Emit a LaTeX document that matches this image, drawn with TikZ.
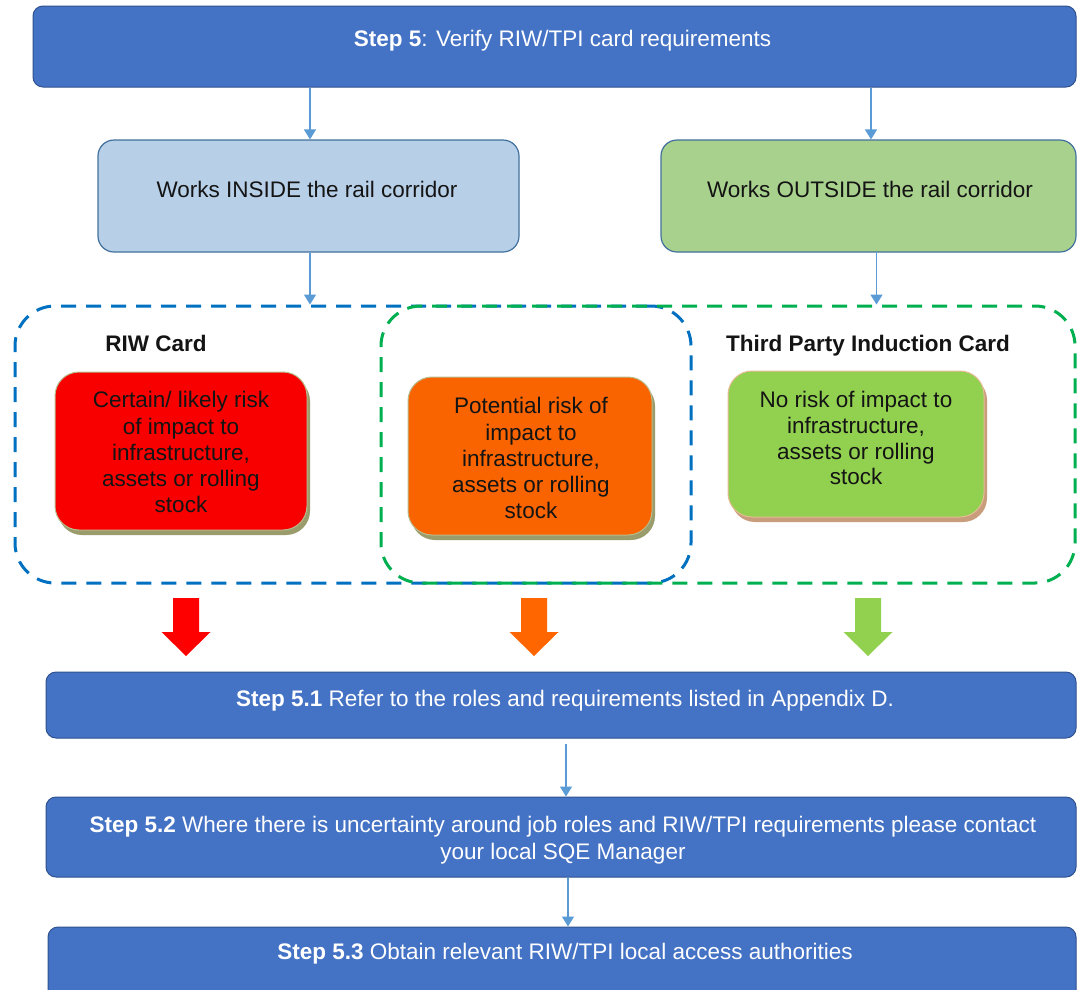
\documentclass[tikz,border=0pt]{standalone}
\usepackage{fontspec}
\setmainfont{Liberation Sans}
\usetikzlibrary{arrows.meta,shadows}
\definecolor{stepblue}{HTML}{4472C4}
\definecolor{stepborder}{HTML}{2F528F}
\definecolor{connblue}{HTML}{5B9BD5}
\definecolor{insidefill}{HTML}{B8CFE8}
\definecolor{outsidefill}{HTML}{A9D18E}
\definecolor{workborder}{HTML}{41719C}
\definecolor{dashblue}{HTML}{0070C0}
\definecolor{dashgreen}{HTML}{00B050}
\definecolor{cardred}{HTML}{F80000}
\definecolor{cardorange}{HTML}{F96400}
\definecolor{cardgreen}{HTML}{92D050}
\definecolor{olivesh}{HTML}{9A9C6C}
\definecolor{oliverim}{HTML}{B9BC8C}
\definecolor{tansh}{HTML}{C99C7C}
\definecolor{tanrim}{HTML}{E6BC98}
\definecolor{arrowred}{HTML}{FF0000}
\definecolor{arroworange}{HTML}{FF6600}
\definecolor{arrowgreen}{HTML}{92D050}
\definecolor{inktext}{HTML}{141414}
\begin{document}
\begin{tikzpicture}[x=1pt,y=-1pt,
  stepbox/.style={draw=stepborder, fill=stepblue, rounded corners=10pt, line width=1pt, inner sep=0pt},
  steptext/.style={text=white, font=\fontsize{22.5}{27}\selectfont, anchor=base, inner sep=0pt},
  workbox/.style={draw=workborder, rounded corners=16pt, line width=1.2pt, inner sep=0pt},
  worktext/.style={text=inktext, font=\fontsize{22.5}{27}\selectfont, anchor=base, inner sep=0pt},
  dashbox/.style={dash pattern=on 15pt off 10pt, line width=3pt, rounded corners=40pt, inner sep=0pt},
  boldlabel/.style={text=inktext, font=\bfseries\fontsize{22.5}{27}\selectfont, anchor=base, inner sep=0pt},
  card/.style={rounded corners=24pt, line width=1pt, inner sep=0pt},
  redshadow/.style={drop shadow={shadow xshift=3pt, shadow yshift=-5pt, fill=olivesh, opacity=1}},
  tanshadow/.style={drop shadow={shadow xshift=3pt, shadow yshift=-5pt, fill=tansh, opacity=1}},
  cardtext/.style={text=inktext, align=center, inner sep=0pt},
  conn/.style={draw=connblue, line width=1.5pt, -{Triangle[width=12pt,length=10pt]}},
  blockarr/.pic={\fill (-13,0) -- (13,0) -- (13,34) -- (24.5,34) -- (0,58) -- (-24.5,34) -- (-13,34) -- cycle;}
]
\clip (0,0) rectangle (1077,989);
\fill[white] (0,0) rectangle (1077,989);

% Step 5
\node[stepbox, minimum width=1043, minimum height=81] (s5) at (554.5,46.5) {};
\node[steptext] (s5t) at (562.5,46) {\textbf{Step 5}: Verify RIW/TPI card requirements};

% inside / outside
\node[workbox, fill=insidefill, minimum width=421, minimum height=112] (inside) at (308.5,196) {};
\node[worktext] (insidet) at (307,197) {Works INSIDE the rail corridor};
\node[workbox, fill=outsidefill, minimum width=415, minimum height=112] (outside) at (868.5,196) {};
\node[worktext] (outsidet) at (870,197) {Works OUTSIDE the rail corridor};

% dashed groups
\node[dashbox, draw=dashblue, minimum width=676, minimum height=277] (riw) at (353,444.5) {};
\node[dashbox, draw=dashgreen, dash phase=12pt, minimum width=694, minimum height=277] (tpi) at (728,444.5) {};

\node[boldlabel] (riwl) at (156,351) {RIW Card};
\node[boldlabel] (tpil) at (868,351) {Third Party Induction Card};

% cards
\node[card, fill=cardred, draw=oliverim, redshadow, minimum width=252, minimum height=158] (red) at (181,451) {};
\node[cardtext, font=\fontsize{22.5}{26.2}\selectfont] (redt) at (181,452.3) {Certain/ likely risk\\of impact to\\infrastructure,\\assets or rolling\\stock};

\node[card, fill=cardorange, draw=oliverim, redshadow, minimum width=244, minimum height=158] (orange) at (530,456) {};
\node[cardtext, font=\fontsize{22.5}{26.2}\selectfont] (oranget) at (531,458.3) {Potential risk of\\impact to\\infrastructure,\\assets or rolling\\stock};

\node[card, fill=cardgreen, draw=tanrim, tanshadow, minimum width=256, minimum height=146] (green) at (856,444) {};
\node[cardtext, font=\fontsize{22.5}{25.7}\selectfont] (greent) at (856,438.3) {No risk of impact to\\infrastructure,\\assets or rolling\\stock};

% connectors
\draw[conn] ([xshift=1.5pt]inside.north |- s5.south) -- ([xshift=1.5pt]inside.north);
\draw[conn] ([xshift=2.5pt]outside.north |- s5.south) -- ([xshift=2.5pt]outside.north);
\draw[conn] ([xshift=1.5pt]inside.south) -- ([xshift=1.5pt]inside.south |- riw.north);
\draw[conn] ([xshift=8pt]outside.south) -- ([xshift=8pt]outside.south |- tpi.north);

% block arrows
\pic[arrowred] at (186,598) {blockarr};
\pic[arroworange] at (534,598) {blockarr};
\pic[arrowgreen] at (868,598) {blockarr};

% bottom steps
\node[stepbox, minimum width=1030, minimum height=66] (s51) at (561,705) {};
\node[steptext] (s51t) at (565,706) {\textbf{Step 5.1} Refer to the roles and requirements listed in Appendix D.};

\node[stepbox, minimum width=1030, minimum height=80] (s52) at (561,837) {};
\node[steptext, anchor=center, align=center] (s52t) at (563,839.7) {\textbf{Step 5.2} Where there is uncertainty around job roles and RIW/TPI requirements please contact\\your local SQE Manager};

\node[stepbox, minimum width=1028, minimum height=83] (s53) at (562,968.5) {};
\node[steptext] (s53t) at (565,959) {\textbf{Step 5.3} Obtain relevant RIW/TPI local access authorities};

\draw[conn, shorten <=5pt] ([xshift=5pt]s51.south) -- ([xshift=5pt]s51.south |- s52.north);
\draw[conn] ([xshift=7pt]s52.south) -- ([xshift=7pt]s52.south |- s53.north);
\end{tikzpicture}
\end{document}
